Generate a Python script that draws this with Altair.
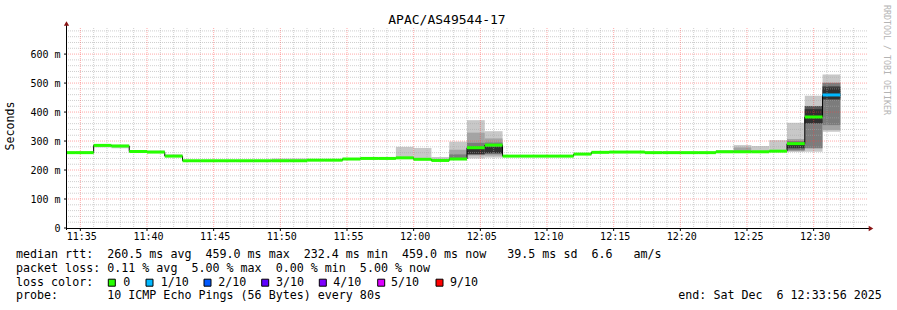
import altair as alt
import pandas as pd

# ---------------- data ----------------
TITLE = "APAC/AS49544-17"
Y_TITLE = "Seconds"
WATERMARK = "RRDTOOL / TOBI OETIKER"

axis_start = "11:34:00"
axis_end = "12:34:00"
first_step_start = "11:33:20"
step_seconds = 80

median_ms = [260, 260, 285, 283, 264, 262, 248, 232, 232, 232, 232, 232, 232, 232,
             234, 234, 238, 240, 240, 242, 237, 233, 238, 277, 286, 248, 248, 248,
             248, 255, 261, 262, 262, 260, 260, 260, 260, 263, 263, 263, 265, 291,
             383, 459]
smoke_min_ms = [258, 258, 278, 275, 261, 259, 246, 231, 231, 231, 231, 231, 231, 231,
                233, 233, 237, 239, 239, 240, 235, 232, 236, 240, 243, 247, 247, 247,
                247, 254, 260, 261, 261, 259, 259, 259, 259, 262, 262, 262, 263, 262,
                263, 332]
smoke_max_ms = [264, 265, 289, 287, 266, 267, 254, 234, 234, 234, 234, 234, 240, 240,
                236, 236, 240, 242, 242, 280, 276, 245, 298, 372, 334, 250, 250, 250,
                250, 257, 263, 264, 264, 262, 262, 262, 262, 269, 286, 283, 303, 363,
                456, 530]
loss_tenths = [0] * 43 + [1]

# inner (darker) smoke bands for the noisy steps
band_step = [22, 22, 23, 23, 23, 24, 24, 24, 38, 41, 41, 41, 42, 42, 42, 43, 43, 43, 43]
band_lo = [240, 237, 250, 252, 255, 250, 255, 258, 262, 266, 268, 275, 275, 361, 361, 338, 355, 441, 445]
band_hi = [270, 254, 329, 294, 280, 309, 295, 281, 278, 307, 300, 294, 421, 421, 410, 502, 500, 490, 485]
band_shade = [1, 2, 1, 2, 4, 1, 2, 4, 1, 1, 2, 4, 2, 3, 4, 1, 2, 3, 4]
shade_colors = ["#c8c8c8", "#a4a4a4", "#7c7c7c", "#555555", "#303030"]

x_tick_labels = ["11:35", "11:40", "11:45", "11:50", "11:55", "12:00",
                 "12:05", "12:10", "12:15", "12:20", "12:25", "12:30"]
y_tick_values = [0, 100, 200, 300, 400, 500, 600]
y_tick_labels = ["0", "100 m", "200 m", "300 m", "400 m", "500 m", "600 m"]
y_max = 690

loss_keys = [0, 1, 2, 3, 4, 5, 9]
loss_names = ["0", "1/10", "2/10", "3/10", "4/10", "5/10", "9/10"]
loss_colors = ["#26ff00", "#00b8ff", "#0059ff", "#5e00ff", "#7e00ff", "#dd00ff", "#ff0000"]

legend_lines = [
    "median rtt:  260.5 ms avg  459.0 ms max  232.4 ms min  459.0 ms now   39.5 ms sd  6.6   am/s",
    "packet loss: 0.11 % avg  5.00 % max  0.00 % min  5.00 % now",
    "loss color:",
    "probe:       10 ICMP Echo Pings (56 Bytes) every 80s",
]
end_text = "end: Sat Dec  6 12:33:56 2025"

# ---------------- derived tables ----------------
def tmin(s):
    h, m, sec = map(int, s.split(":"))
    return h * 60 + m + sec / 60.0

t0 = tmin(axis_start)
t1 = tmin(axis_end)
s0 = tmin(first_step_start) - t0
st = step_seconds / 60.0
loss_color_map = dict(zip(loss_keys, loss_colors))
n = len(median_ms)

steps = pd.DataFrame({
    "x0": [max(0.0, s0 + i * st) for i in range(n)],
    "x1": [s0 + (i + 1) * st for i in range(n)],
    "med": median_ms,
    "col": [loss_color_map[l] for l in loss_tenths],
})

bands = [dict(x0=steps["x0"][i], x1=steps["x1"][i], lo=smoke_min_ms[i], hi=smoke_max_ms[i], shade=0)
         for i in range(n)]
for i, lo, hi, sh in zip(band_step, band_lo, band_hi, band_shade):
    bands.append(dict(x0=steps["x0"][i], x1=steps["x1"][i], lo=lo, hi=hi, shade=sh))
bands = pd.DataFrame(bands).sort_values("shade", kind="stable").reset_index(drop=True)
bands["fill"] = [shade_colors[s] for s in bands["shade"]]

line_df = pd.DataFrame({"x": list(steps["x0"]) + [steps["x1"].iloc[-1]],
                        "y": list(median_ms) + [median_ms[-1]]})

x_tick_pos = [tmin(l + ":00") - t0 for l in x_tick_labels]
xticks = pd.DataFrame({"m": x_tick_pos, "lab": x_tick_labels})
yticks = pd.DataFrame({"v": y_tick_values, "lab": y_tick_labels})
minor_x = pd.DataFrame({"m": [m for m in range(1, int(t1 - t0)) if m not in x_tick_pos]})
major_y = pd.DataFrame({"v": [v for v in y_tick_values if v > 0]})
minor_y = pd.DataFrame({"v": [v for v in range(20, y_max, 20) if v % 100 != 0]})

xs = alt.Scale(domain=[0, t1 - t0], nice=False, zero=False)
ys = alt.Scale(domain=[0, y_max], nice=False, zero=True)
MONO = "DejaVu Sans Mono"
one = pd.DataFrame({"k": [0]})

def X(f):
    return alt.X(f, type="quantitative", scale=xs, axis=None)

def Y(f):
    return alt.Y(f, type="quantitative", scale=ys, axis=None)

# ---------------- layers ----------------
smoke = alt.Chart(bands).mark_rect(strokeWidth=0).encode(
    x=X("x0"), x2="x1:Q", y=Y("lo"), y2="hi:Q",
    fill=alt.Fill("fill:N", scale=None),
)

GRID_GRAY = dict(color="#a8a8a8", opacity=0.55, strokeDash=[1, 1], strokeWidth=1)
GRID_RED = dict(color="#ff4040", opacity=0.45, strokeDash=[1, 1], strokeWidth=1)
grid_minor_x = alt.Chart(minor_x).mark_rule(**GRID_GRAY).encode(x=X("m"))
grid_minor_y = alt.Chart(minor_y).mark_rule(**GRID_GRAY).encode(y=Y("v"))
grid_major_x = alt.Chart(xticks).mark_rule(**GRID_RED).encode(x=X("m"))
grid_major_y = alt.Chart(major_y).mark_rule(**GRID_RED).encode(y=Y("v"))

step_line = alt.Chart(line_df).mark_line(color="#000000", strokeWidth=1, interpolate="step-after").encode(
    x=X("x"), y=Y("y"))

median_rules = alt.Chart(steps).mark_rule(strokeWidth=3, strokeCap="butt").encode(
    x=X("x0"), x2="x1:Q", y=Y("med"),
    color=alt.Color("col:N", scale=None),
)

# axes: lines, ticks, labels
axis_x_line = alt.Chart(one).mark_rule(color="#000000", strokeWidth=1).encode(
    x=alt.value(0), x2=alt.value(803), y=alt.value(200.5))
axis_y_line = alt.Chart(one).mark_rule(color="#000000", strokeWidth=1).encode(
    x=alt.value(-0.5), y=alt.value(-3), y2=alt.value(202))
x_tick_marks = alt.Chart(xticks).mark_rule(color="#000000", strokeWidth=1).encode(
    x=X("m"), y=alt.value(200), y2=alt.value(203))
y_tick_marks = alt.Chart(yticks).mark_rule(color="#000000", strokeWidth=1).encode(
    y=Y("v"), x=alt.value(-3), x2=alt.value(0))
x_labels = alt.Chart(xticks).mark_text(font=MONO, fontSize=10, align="center", baseline="alphabetic",
                                       color="#000000", dx=1.5).encode(
    x=X("m"), y=alt.value(211.5), text="lab:N")
y_labels = alt.Chart(yticks).mark_text(font=MONO, fontSize=10, align="right", baseline="middle",
                                       color="#000000", dy=0.5).encode(
    x=alt.value(-6.5), y=Y("v"), text="lab:N")

arrow_y = alt.Chart(one).mark_point(shape="triangle-up", filled=True, size=28, color="#8a1515", opacity=1).encode(
    x=alt.value(-0.5), y=alt.value(-4.5))
arrow_x = alt.Chart(one).mark_point(shape="triangle-right", filled=True, size=28, color="#8a1515", opacity=1).encode(
    x=alt.value(804), y=alt.value(200.5))

# texts outside the plot
PX = alt.X("px:Q", scale=None, axis=None)
PY = alt.Y("py:Q", scale=None, axis=None)

title_df = pd.DataFrame({"t": [TITLE], "px": [380], "py": [-4]})
title = alt.Chart(title_df).mark_text(font=MONO, fontSize=13, align="center", baseline="alphabetic", color="#000000").encode(
    x=PX, y=PY, text="t:N")

ytitle_df = pd.DataFrame({"t": [Y_TITLE], "px": [-56], "py": [98]})
ytitle = alt.Chart(ytitle_df).mark_text(font=MONO, fontSize=11.6, angle=270, align="center", baseline="middle", color="#000000").encode(
    x=PX, y=PY, text="t:N")

wm_df = pd.DataFrame({"t": [WATERMARK], "px": [819], "py": [32]})
wm = alt.Chart(wm_df).mark_text(font=MONO, fontSize=8.3, angle=90, align="center", baseline="middle", color="#b4b4b4").encode(
    x=PX, y=PY, text="t:N")

NB = "\u00a0"
leg_rows = []
for txt, py in zip(legend_lines, [230, 243.7, 257.5, 271.2]):
    leg_rows.append(dict(t=txt.replace(" ", NB), px=-51, py=py))
for name, lx in zip(loss_names, [56.3, 93.7, 151.3, 209, 266.3, 324, 383]):
    leg_rows.append(dict(t=name.replace(" ", NB), px=lx, py=257.5))
leg_rows.append(dict(t=end_text.replace(" ", NB), px=611.3, py=271.2))
leg_df = pd.DataFrame(leg_rows)
legend_text = alt.Chart(leg_df).mark_text(font=MONO, fontSize=11.66, align="left", baseline="alphabetic", color="#000000").encode(
    x=PX, y=PY, text="t:N")

box_df = pd.DataFrame({"px": [41.3, 79, 137, 194.7, 252.3, 310.7, 369], "fillc": loss_colors})
box_df["px2"] = box_df["px"] + 7
box_df["py"] = 251.2
box_df["py2"] = 258.2
boxes = alt.Chart(box_df).mark_rect(stroke="#000000", strokeWidth=1).encode(
    x=PX, x2="px2:Q", y=PY, y2="py2:Q", fill=alt.Fill("fillc:N", scale=None))

chart = alt.layer(
    smoke, grid_minor_x, grid_minor_y, grid_major_x, grid_major_y,
    step_line, median_rules,
    axis_x_line, axis_y_line, x_tick_marks, y_tick_marks, x_labels, y_labels,
    arrow_y, arrow_x,
    title, ytitle, wm, legend_text, boxes,
).properties(
    width=800, height=200,
    padding={"left": 67, "top": 28, "right": 30, "bottom": 82},
    autosize=alt.AutoSizeParams(type="none"),
    background="#ffffff",
).configure_view(strokeWidth=0)

chart.save("out.html", embed_options={"renderer": "svg", "actions": False})
